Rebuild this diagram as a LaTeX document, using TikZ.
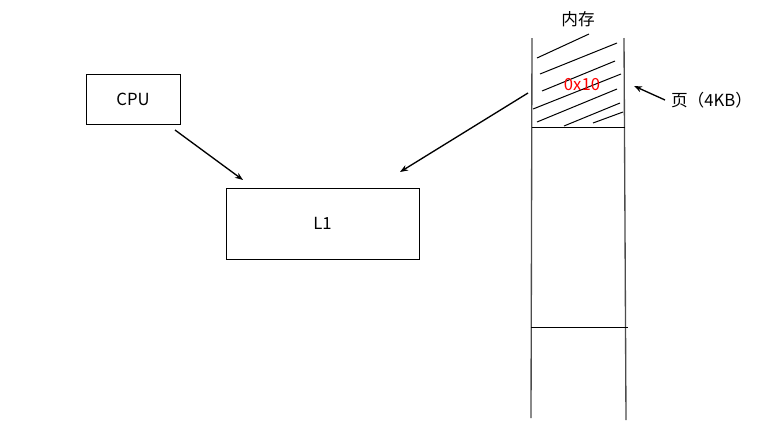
\documentclass[tikz,border=0pt]{standalone}
\usepackage{fontspec}
\setmainfont{Noto Sans CJK SC}
\usetikzlibrary{arrows.meta}

\begin{document}
\begin{tikzpicture}[x=0.75pt,y=-0.75pt,
                    every node/.style={font=\fontsize{12.5}{14}\selectfont,inner sep=0pt},
                    box/.style={draw,line width=0.75pt},
                    arr/.style={-{Stealth[length=6pt,width=4.5pt]},line width=1pt},
                    col/.style={draw=black!70,line width=1pt},
                    hatch/.style={line width=0.75pt}]
    \useasboundingbox (0,0) rectangle (766,436);

    % boxes
    \node[box,minimum width=70.5pt,minimum height=37.5pt] (cpu) at (133,99) {CPU};
    \node[box,minimum width=144.75pt,minimum height=53.25pt] (l1) at (322.5,223.5) {L1};

    % memory column
    \coordinate (mtl) at (532,38);  \coordinate (mbl) at (531,418);
    \coordinate (mtr) at (624,38);  \coordinate (mbr) at (626,420);
    \draw[col] (mtl) -- (mbl);
    \draw[col] (mtr) -- (mbr);
    \draw[line width=0.75pt] (532,127) -- (625,127);
    \draw[line width=0.75pt] (531,327) -- (628,327);
    \foreach \xa/\ya/\xb/\yb in {537/58/589/34, 540/74/617/43, 542/91/615/61,
                                 533/109/621/74, 537/122/617/89, 564/126/620/103,
                                 593/123/623/112}
        \draw[hatch] (\xa,\ya) -- (\xb,\yb);

    % labels
    \node (mem) at (578,19) {内存};
    \node[text=red] (addr) at (582,85) {0x10};
    \node (page) at (711.5,100) {页（4KB）};

    % arrows
    \coordinate (cpuout) at (175,130);
    \coordinate (l1a) at (243,180);
    \coordinate (pgout) at (528,93);
    \coordinate (l1b) at (400,172);
    \coordinate (pgtail) at (665,100);
    \coordinate (pghead) at (634,86);
    \draw[arr] (cpuout) -- (l1a);
    \draw[arr] (pgout) -- (l1b);
    \draw[arr] (pgtail) -- (pghead);
\end{tikzpicture}
\end{document}
